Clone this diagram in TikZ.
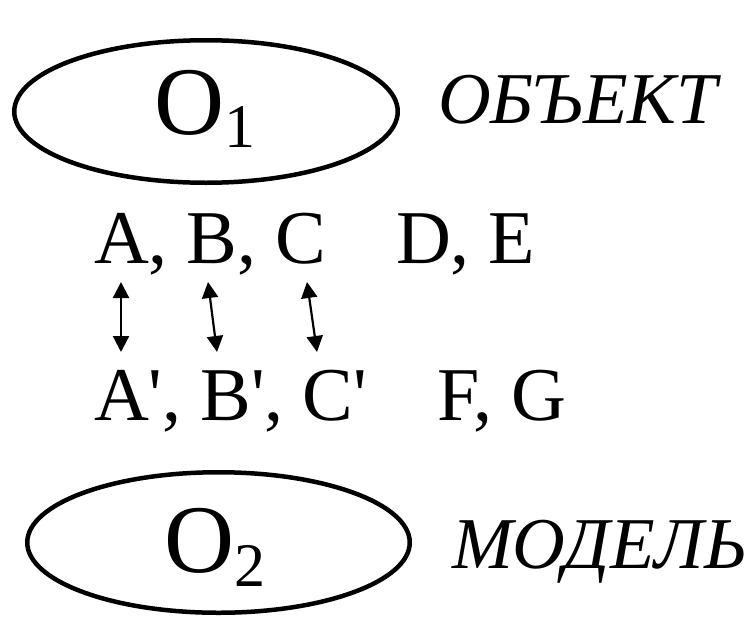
\documentclass[tikz,border=0pt]{standalone}
\usetikzlibrary{arrows.meta,shapes.geometric}
% Plain XeTeX fonts (no tex-text mapping, so ' stays a straight quote)
\font\labelfont="Liberation Serif" at 76pt
\font\bigfont="Liberation Serif" at 97pt
\font\subfont="Liberation Serif" at 62pt
\font\wordfont="Liberation Serif/I" at 73pt
\begin{document}
\begin{tikzpicture}[x=1pt,y=-1pt,
  oval/.style={draw, ellipse, line width=4.5pt, inner sep=0pt},
  txt/.style={anchor=base west, inner sep=0pt, outer sep=0pt},
  link/.style={line width=2.2pt, {Triangle[width=16pt,length=16pt]}-{Triangle[width=16pt,length=16pt]}}
]
\useasboundingbox (0,0) rectangle (751,616);

% object and model ovals
\node[oval, minimum width=383.5pt, minimum height=142.5pt] (obj) at (206,111.5) {};
\node[oval, minimum width=382.5pt, minimum height=140.5pt] (mod) at (218.5,542.5) {};

\node[txt] (o1) at (154,134) {\bigfont O\lower13pt\hbox{\subfont 1}};
\node[txt] (o2) at (164,572) {\bigfont O\lower14pt\hbox{\subfont 2}};

\node[txt] (objword) at (438,123) {\wordfont ОБЪЕКТ};
\node[txt] (modword) at (452,568) {\wordfont МОДЕЛЬ};

% properties of the object and of the model
\node[txt] (abc) at (94,263) {\labelfont A, B, C};
\node[txt] (de) at (396,263) {\labelfont D, E};
\node[txt] (abcp) at (94,420) {\labelfont A', B', C'};
\node[txt] (fg) at (437,420) {\labelfont F, G};

% correspondence arrows
\coordinate (a1) at (121,282); \coordinate (a2) at (121,352);
\coordinate (b1) at (208,282); \coordinate (b2) at (217,352);
\coordinate (c1) at (307,282); \coordinate (c2) at (317,352);
\draw[link] (a1) -- (a2);
\draw[link] (b1) -- (b2);
\draw[link] (c1) -- (c2);
\end{tikzpicture}
\end{document}
